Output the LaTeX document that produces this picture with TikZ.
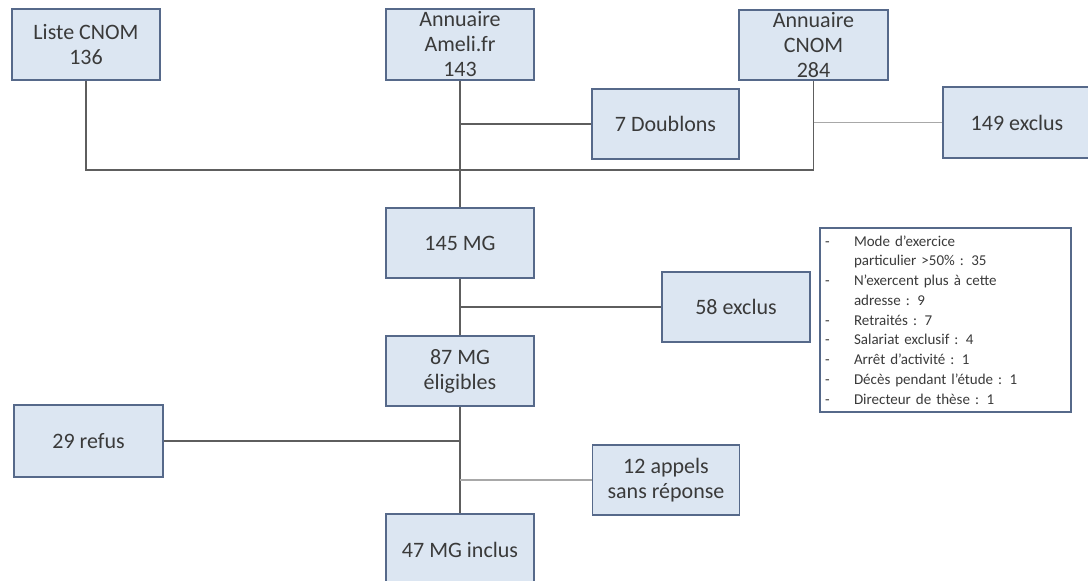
\documentclass[tikz,border=0pt]{standalone}
\usepackage{fontspec}
\setmainfont{Carlito}
\definecolor{boxfill}{HTML}{DCE6F2}
\definecolor{boxdraw}{HTML}{56698A}
\definecolor{txt}{HTML}{3A3A3A}
\definecolor{ln}{HTML}{5E5E5E}
\definecolor{lnlight}{HTML}{A8A8A8}
\begin{document}
\begin{tikzpicture}[x=1pt,y=-1pt,
  flowbox/.style={draw=boxdraw,fill=boxfill,line width=1.2pt,text=txt,
    minimum width=148pt,minimum height=70pt,inner sep=0pt,align=center,
    font=\fontsize{22}{25}\selectfont},
  notebox/.style={draw=boxdraw,fill=white,line width=1.2pt,text=txt,
    minimum width=251pt,minimum height=184pt,inner xsep=5pt,inner ysep=0pt,
    text width=241pt,align=left,font=\fontsize{15}{19.75}\selectfont},
  conn/.style={draw=ln,line width=1.1pt},
  connlight/.style={draw=lnlight,line width=1.1pt}]
\clip (0,0) rectangle (1088,581);
\fill[white] (0,0) rectangle (1088,581);

\node[flowbox,minimum height=71pt] (liste) at (86,44.5) {Liste CNOM\\136};
\node[flowbox,minimum height=71pt] (ameli) at (460,44.5) {Annuaire\\Ameli.fr\\143};
\node[flowbox,minimum width=149pt] (cnomA) at (813.5,45) {Annuaire\\CNOM\\284};
\node[flowbox,minimum width=147pt] (doublons) at (665.5,124) {7 Doublons};
\node[flowbox,minimum height=71pt] (ex149) at (1017,122.5) {149 exclus};
\node[flowbox] (mg145) at (460,243) {145 MG};
\node[flowbox] (ex58) at (736,307) {58 exclus};
\node[notebox] (note) at (945.5,320) {%
\makebox[29pt][l]{-}Mode d’exercice\\
\hspace*{29pt}particulier >50\% : 35\\
\makebox[29pt][l]{-}N’exercent plus à cette\\
\hspace*{29pt}adresse : 9\\
\makebox[29pt][l]{-}Retraités : 7\\
\makebox[29pt][l]{-}Salariat exclusif : 4\\
\makebox[29pt][l]{-}Arrêt d’activité : 1\\
\makebox[29pt][l]{-}Décès pendant l’étude : 1\\
\makebox[29pt][l]{-}Directeur de thèse : 1};
\node[flowbox] (mg87) at (460,371) {87 MG\\éligibles};
\node[flowbox,minimum width=149pt,minimum height=72pt] (refus) at (88.5,441) {29 refus};
\node[flowbox,minimum width=147pt] (appels) at (666,480) {12 appels\\sans réponse};
\node[flowbox,minimum height=72pt] (inclus) at (460,550) {47 MG inclus};

\coordinate (j1) at (460,170);
\draw[conn] (liste.south) |- (j1) -| (cnomA.south);
\draw[conn] (ameli.south) -- (mg145.north);
\draw[conn] (ameli.south |- doublons.west) -- (doublons.west);
\draw[connlight] (cnomA.south |- ex149.west) -- (ex149.west);
\draw[conn] (mg145.south) -- (mg87.north);
\draw[conn] (mg145.south |- ex58.west) -- (ex58.west);
\draw[conn] (mg87.south) -- (inclus.north);
\draw[conn] (refus.east) -- (mg87.south |- refus.east);
\draw[connlight] (mg87.south |- appels.west) -- (appels.west);
\end{tikzpicture}
\end{document}
